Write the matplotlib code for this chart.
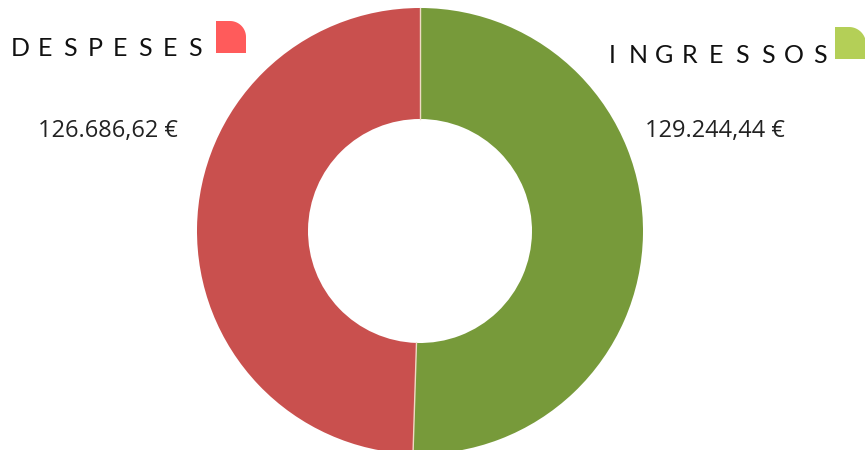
"""Donut chart: despeses vs ingressos."""

import matplotlib.pyplot as plt
import numpy as np
from matplotlib.patches import Polygon

W, H = 865, 450

# data
categories = ["INGRESSOS", "DESPESES"]
values = [129244.44, 126686.62]
value_labels = ["129.244,44 €", "126.686,62 €"]

RING_COLORS = ["#779A3A", "#C9504E"]
MARK_COLORS = ["#B4CF57", "#FF5B5B"]

CX, CY, R_OUT, R_IN = 420, 231, 223, 112


def y_(py):
    """pixel row -> data y (origin at bottom)"""
    return H - py


def rounded_marker(ax, x0, top, w, h, r, color):
    """square with a round top-right corner"""
    t = np.linspace(0, np.pi / 2, 20)
    arc = [(x0 + w - r + r * np.cos(a), y_(top) - r + r * np.sin(a)) for a in t]
    pts = [(x0, y_(top + h)), (x0 + w, y_(top + h))] + arc + [(x0, y_(top))]
    ax.add_patch(Polygon(pts, closed=True, color=color, lw=0))


def spaced_text(ax, word, x_start, pitch, baseline, size):
    for i, ch in enumerate(word):
        ax.text(x_start + i * pitch, y_(baseline), ch, ha="center", va="baseline",
                fontsize=size, family=["Lato", "DejaVu Sans"], fontweight="normal",
                color="#111111")


fig = plt.figure(figsize=(W / 100, H / 100), dpi=100)
ax = fig.add_axes([0, 0, 1, 1])

ax.pie(values, colors=RING_COLORS, startangle=90, counterclock=False,
       center=(CX, y_(CY)), radius=R_OUT,
       wedgeprops=dict(width=R_OUT - R_IN, linewidth=0))

# thin light separators between the two slices
total = sum(values)
ang = 90.0
for v in values:
    a = np.deg2rad(ang)
    ax.plot([CX + R_IN * np.cos(a), CX + R_OUT * np.cos(a)],
            [y_(CY) + R_IN * np.sin(a), y_(CY) + R_OUT * np.sin(a)],
            color="#efd9c4", lw=1.0)
    ang -= 360.0 * v / total

ax.set_xlim(0, W)
ax.set_ylim(0, H)
ax.set_aspect("auto")
ax.axis("off")

# headings with spaced letters
spaced_text(ax, "DESPESES", 20, 25.0, 56, 18)
spaced_text(ax, "INGRESSOS", 612, 26.0, 63, 18)

rounded_marker(ax, 216, 21, 30, 32, 16, MARK_COLORS[1])
rounded_marker(ax, 835, 27, 31, 32, 17, MARK_COLORS[0])

# value labels
ax.text(108, y_(131), value_labels[1], ha="center", va="center", fontsize=17,
        family=["Open Sans", "DejaVu Sans"], color="#222222")
ax.text(715, y_(131), value_labels[0], ha="center", va="center", fontsize=17,
        family=["Open Sans", "DejaVu Sans"], color="#222222")

fig.savefig("out.png", dpi=100, facecolor="white")
